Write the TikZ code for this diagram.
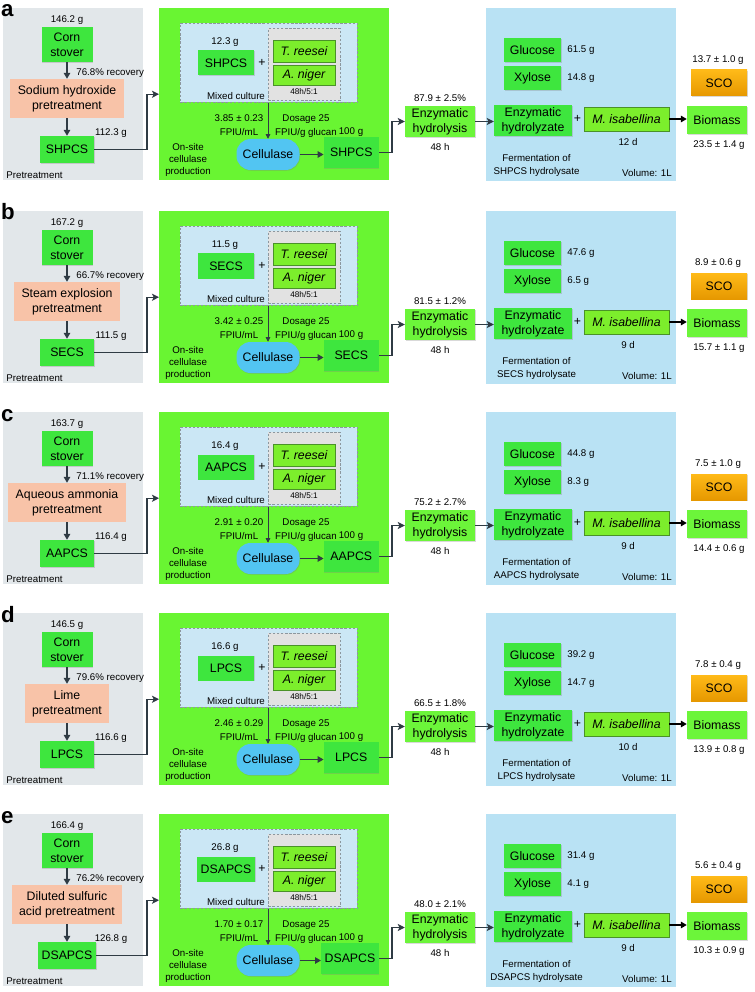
\documentclass[tikz,border=0pt]{standalone}
\usepackage{fontspec}
\setmainfont{Liberation Sans}
\usetikzlibrary{arrows.meta,calc,shadows}
\definecolor{ink}{HTML}{2F3B44}
\definecolor{panelgrey}{HTML}{E2E7EA}
\definecolor{onsitegreen}{HTML}{69F532}
\definecolor{fermblue}{HTML}{B9E2F4}
\definecolor{mixblue}{HTML}{CBE7F5}
\definecolor{subgrey}{HTML}{E2E2E2}
\definecolor{dashgrey}{HTML}{8C979E}
\definecolor{boxgreen}{HTML}{3EE63E}
\definecolor{lightgreen}{HTML}{6CF53A}
\definecolor{fungusfill}{HTML}{7CEE2C}
\definecolor{fungusline}{HTML}{4A9228}
\definecolor{salmon}{HTML}{F8C3A8}
\definecolor{cellblue}{HTML}{52C5F2}
\definecolor{scotop}{HTML}{FFBA18}
\definecolor{scobottom}{HTML}{E69800}
\newcommand{\px}{0.03cm}
\newcommand{\boxfont}{\fontsize{10.5}{12.5}\selectfont}
\newcommand{\smallfont}{\fontsize{8.3}{10.5}\selectfont}
\newcommand{\tinyfont}{\fontsize{7}{8}\selectfont}
\newcommand{\letterfont}{\fontsize{19}{19}\selectfont\bfseries}
\tikzset{
 every node/.append style={font=\smallfont,text=black,align=center,inner sep=1pt},
 panel/.style={anchor=north west,inner sep=0pt},
 letter/.style={font=\letterfont,anchor=base west,inner sep=0pt},
 softshadow/.style={drop shadow={shadow xshift=.6pt,shadow yshift=-.7pt,opacity=.3}},
 gbox/.style={fill=boxgreen,font=\boxfont,inner xsep=3pt,inner ysep=1pt,softshadow},
 lbox/.style={fill=lightgreen,font=\boxfont,inner xsep=3pt,inner ysep=1pt,softshadow},
 pbox/.style={fill=salmon,font=\boxfont,inner xsep=6.5pt,inner ysep=2pt},
 fbox/.style={fill=fungusfill,draw=fungusline,line width=.6pt,font=\boxfont\itshape,inner sep=1pt},
 cbox/.style={fill=cellblue,font=\boxfont,rounded corners=12pt,softshadow},
 scobox/.style={top color=scotop,bottom color=scobottom,font=\boxfont,softshadow},
 dashbox/.style={panel,draw=dashgrey,line width=.6pt,dash pattern=on 2pt off 1.5pt},
 flow/.style={-{Triangle[length=5pt,width=5.5pt]},draw=ink,line width=1.1pt},
 thinflow/.style={-{Triangle[length=4pt,width=4pt]},draw=ink,line width=.7pt},
 linkflow/.style={-{Stealth[length=6pt,width=6pt,inset=1.5pt]},draw=ink,line width=.9pt},
}

\begin{document}
\begin{tikzpicture}[x=\px,y=-\px]

\useasboundingbox (0,0) rectangle (754,992);
\foreach \offs/\plab/\cornm/\recov/\pretxt/\subst/\subm/\innm/\activ/\yield/\glcm/\xylm/\days/\scom/\biom in {
 0/a/146.2/76.8/{Sodium hydroxide\\pretreatment}/SHPCS/112.3/12.3/3.85 ± 0.23/87.9 ± 2.5/61.5/14.8/12/13.7 ± 1.0/23.5 ± 1.4,
 203/b/167.2/66.7/{Steam explosion\\pretreatment}/SECS/111.5/11.5/3.42 ± 0.25/81.5 ± 1.2/47.6/6.5/9/8.9 ± 0.6/15.7 ± 1.1,
 404/c/163.7/71.1/{Aqueous ammonia\\pretreatment}/AAPCS/116.4/16.4/2.91 ± 0.20/75.2 ± 2.7/44.8/8.3/9/7.5 ± 1.0/14.4 ± 0.6,
 605/d/146.5/79.6/{Lime\\pretreatment}/LPCS/116.6/16.6/2.46 ± 0.29/66.5 ± 1.8/39.2/14.7/10/7.8 ± 0.4/13.9 ± 0.8,
 806/e/166.4/76.2/{Diluted sulfuric\\acid pretreatment}/DSAPCS/126.8/26.8/1.70 ± 0.17/48.0 ± 2.1/31.4/4.1/9/5.6 ± 0.4/10.3 ± 0.9}{
\begin{scope}[shift={(0,\offs)}]
% panels
\node[panel,fill=panelgrey,minimum width=140*\px,minimum height=172*\px] (pretr\plab) at (3,8) {};
\node[panel,fill=onsitegreen,minimum width=230*\px,minimum height=172*\px] (onsite\plab) at (159,8) {};
\node[panel,fill=fermblue,minimum width=190*\px,minimum height=173*\px] (ferm\plab) at (486,8) {};
\node[dashbox,fill=mixblue,minimum width=177*\px,minimum height=79*\px] (mix\plab) at (180,23) {};
\node[dashbox,fill=subgrey,minimum width=72*\px,minimum height=72*\px] (fungi\plab) at (268,28) {};
\node[letter] (lbl\plab) at (1,17) {\plab};
% pretreatment
\node (cornm\plab) at (67,20) {\cornm\ g};
\node[gbox,minimum width=51*\px,minimum height=35*\px] (corn\plab) at (67,44.5) {Corn\\stover};
\node[anchor=west] (rec\plab) at (75,73) {\recov\% recovery};
\node[pbox,minimum height=39*\px] (pre\plab) at (67,98.5) {\pretxt};
\node[gbox,minimum width=54*\px,minimum height=27*\px] (sub\plab) at (67,149.5) {\subst};
\node (subm\plab) at (111,133) {\subm\ g};
\node[anchor=west] (ptl\plab) at (5,175) {Pretreatment};
\coordinate (bendA\plab) at (147,149.5);
\draw[flow] (corn\plab) -- (pre\plab);
\draw[flow] (pre\plab) -- (sub\plab);
\draw[linkflow] (sub\plab.east) -- (sub\plab.east -| bendA\plab) |- (onsite\plab.west);
% on-site cellulase production
\node (innm\plab) at (225,42) {\innm\ g};
\node[gbox,minimum width=56*\px,minimum height=25*\px] (inn\plab) at (226,63) {\subst};
\node[font=\boxfont] (plusA\plab) at (262,63) {+};
\node[fbox,minimum width=62*\px,minimum height=22*\px] (tr\plab) at (304,51) {T. reesei};
\node[fbox,minimum width=62*\px,minimum height=20*\px] (an\plab) at (304,75) {A. niger};
\node[font=\tinyfont] (ratio\plab) at (304,91.5) {48h/5:1};
\node (mixl\plab) at (236,96) {Mixed culture};
\node (act\plab) at (239,125.5) {\activ\\[1.5pt]FPIU/mL};
\node (dose\plab) at (306,126.5) {Dosage 25\\[1.5pt]FPIU/g glucan};
\node (hund\plab) at (351,132) {100 g};
\node[cbox,minimum width=63*\px,minimum height=31*\px] (cell\plab) at (268,154.5) {Cellulase};
\node (site\plab) at (188,160) {On-site\\cellulase\\production};
\node[gbox,anchor=east,minimum width=55*\px,minimum height=31*\px] (out\plab) at (379,152.5) {\subst};
\coordinate (bendB\plab) at (392,152.5);
\draw[thinflow] (cell\plab.north |- mix\plab.south) -- (cell\plab.north);
\draw[flow] (cell\plab.east) -- (cell\plab.east -| out\plab.west);
% hydrolysis and fermentation
\node[lbox,minimum width=70*\px,minimum height=31*\px] (eh\plab) at (440,121.5) {Enzymatic\\hydrolysis};
\node (yld\plab) at (440,98) {\yield\%};
\node (eht\plab) at (440,147) {48 h};
\draw[linkflow] (out\plab.east) -- (out\plab.east -| bendB\plab) |- (eh\plab.west);
\node[gbox,minimum width=57*\px,minimum height=24*\px] (glc\plab) at (532.5,50) {Glucose};
\node[anchor=west] (glcm\plab) at (566,50) {\glcm\ g};
\node[gbox,minimum width=57*\px,minimum height=24*\px] (xyl\plab) at (532.5,78) {Xylose};
\node[anchor=west] (xylm\plab) at (566,78) {\xylm\ g};
\node[gbox,minimum width=78*\px,minimum height=31*\px] (hyd\plab) at (533,120.5) {Enzymatic\\hydrolyzate};
\node[font=\boxfont] (plusB\plab) at (577.5,118.5) {+};
\node[fbox,minimum width=85*\px,minimum height=24*\px] (mis\plab) at (626.5,119) {M. isabellina};
\node (day\plab) at (628,142) {\days\ d};
\node (fermt\plab) at (536.5,165.5) {Fermentation of\\\subst\ hydrolysate};
\node (vol\plab) at (647,173) {Volume: 1L};
\draw[linkflow] (eh\plab.east) -- (eh\plab.east -| hyd\plab.west);
% products
\node[lbox,minimum width=60*\px,minimum height=28*\px] (bio\plab) at (717,120) {Biomass};
\node (biom\plab) at (719,145) {\biom\ g};
\node[scobox,minimum width=56*\px,minimum height=26*\px] (sco\plab) at (719,83) {SCO};
\node (scom\plab) at (718,60) {\scom\ g};
\draw[flow,draw=black] (mis\plab.east) -- (mis\plab.east -| bio\plab.west);
\end{scope}
}

\end{tikzpicture}
\end{document}
